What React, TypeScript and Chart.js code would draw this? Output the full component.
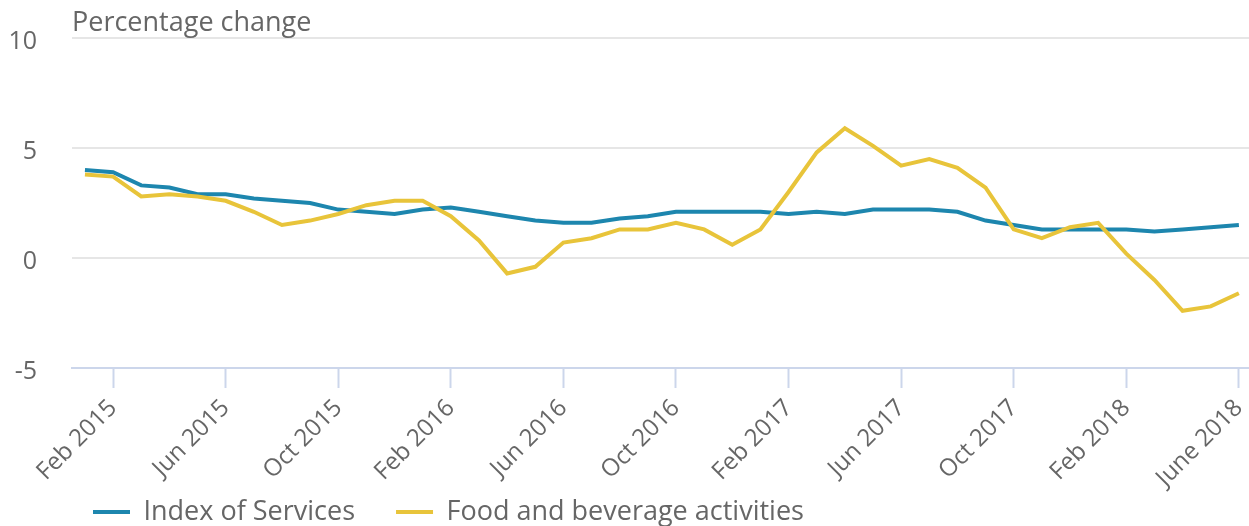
import React, { useEffect, useRef } from "react";
import { Chart, registerables } from "chart.js";

Chart.register(...registerables);

const categories = [
  "Jan 2015", "Feb 2015", "Mar 2015", "Apr 2015", "May 2015", "Jun 2015",
  "Jul 2015", "Aug 2015", "Sep 2015", "Oct 2015", "Nov 2015", "Dec 2015",
  "Jan 2016", "Feb 2016", "Mar 2016", "Apr 2016", "May 2016", "Jun 2016",
  "Jul 2016", "Aug 2016", "Sep 2016", "Oct 2016", "Nov 2016", "Dec 2016",
  "Jan 2017", "Feb 2017", "Mar 2017", "Apr 2017", "May 2017", "Jun 2017",
  "Jul 2017", "Aug 2017", "Sep 2017", "Oct 2017", "Nov 2017", "Dec 2017",
  "Jan 2018", "Feb 2018", "Mar 2018", "Apr 2018", "May 2018", "June 2018",
];

const tickIndices = [1, 5, 9, 13, 17, 21, 25, 29, 33, 37, 41];
const tickLabels = [
  "Feb 2015", "Jun 2015", "Oct 2015", "Feb 2016", "Jun 2016", "Oct 2016",
  "Feb 2017", "Jun 2017", "Oct 2017", "Feb 2018", "June 2018",
];

const yTicks = [-5, 0, 5, 10];

const indexOfServices = [
  4.0, 3.9, 3.3, 3.2, 2.9, 2.9, 2.7, 2.6, 2.5, 2.2, 2.1, 2.0,
  2.2, 2.3, 2.1, 1.9, 1.7, 1.6, 1.6, 1.8, 1.9, 2.1, 2.1, 2.1,
  2.1, 2.0, 2.1, 2.0, 2.2, 2.2, 2.2, 2.1, 1.7, 1.5, 1.3, 1.3,
  1.3, 1.3, 1.2, 1.3, 1.4, 1.5,
];

const foodAndBeverage = [
  3.8, 3.7, 2.8, 2.9, 2.8, 2.6, 2.1, 1.5, 1.7, 2.0, 2.4, 2.6,
  2.6, 1.9, 0.8, -0.7, -0.4, 0.7, 0.9, 1.3, 1.3, 1.6, 1.3, 0.6,
  1.3, 3.0, 4.8, 5.9, 5.1, 4.2, 4.5, 4.1, 3.2, 1.3, 0.9, 1.4,
  1.6, 0.2, -1.0, -2.4, -2.2, -1.6,
];

const BLUE = "#1d86ae";
const YELLOW = "#e8c43a";
const TEXT = "#666666";
const FONT = "'Open Sans', sans-serif";

const layoutTweaks = {
  id: "layoutTweaks",
  afterLayout(chart: any) {
    const lg = chart.legend;
    if (lg) {
      lg.left -= 20;
      lg.right -= 20;
    }
    const xs = chart.scales && chart.scales.x;
    if (xs) {
      xs.bottom = chart.height;
    }
  },
};

export default function App() {
  const ref = useRef<HTMLCanvasElement | null>(null);

  useEffect(() => {
    if (!ref.current) return;
    const toPoints = (arr: number[]) => arr.map((v, i) => ({ x: i, y: v }));
    const chart = new Chart(ref.current, {
      type: "line",
      data: {
        labels: categories,
        datasets: [
          {
            label: "Index of Services",
            data: toPoints(indexOfServices),
            borderColor: BLUE,
            backgroundColor: BLUE,
            borderWidth: 4,
            pointRadius: 0,
            tension: 0,
            order: 1,
          },
          {
            label: "Food and beverage activities",
            data: toPoints(foodAndBeverage),
            borderColor: YELLOW,
            backgroundColor: YELLOW,
            borderWidth: 4,
            pointRadius: 0,
            tension: 0,
            order: 0,
          },
        ],
      },
      plugins: [layoutTweaks],
      options: {
        animation: false,
        responsive: false,
        layout: { padding: { top: 0, left: 0, right: 0, bottom: -9.5 } },
        plugins: {
          tooltip: { enabled: false },
          title: {
            display: true,
            text: "Percentage change",
            align: "start",
            fullSize: false,
            color: TEXT,
            font: { family: FONT, size: 27, weight: "normal", lineHeight: 1 },
            padding: { top: 10, bottom: 1 },
          },
          legend: {
            position: "bottom",
            align: "start",
            fullSize: false,
            labels: {
              usePointStyle: true,
              pointStyle: "line",
              pointStyleWidth: 37,
              color: TEXT,
              font: { family: FONT, size: 27 },
              padding: 41,
              sort: (a: any, b: any) => a.datasetIndex - b.datasetIndex,
            },
          },
        },
        scales: {
          x: {
            type: "linear",
            min: -0.46,
            max: 41.36,
            afterBuildTicks: (s: any) => {
              s.ticks = tickIndices.map((v) => ({ value: v }));
            },
            afterFit: (s: any) => {
              s.height = 89.5;
              s.paddingLeft = 0;
              s.paddingRight = 0;
            },
            ticks: {
              autoSkip: false,
              minRotation: 45,
              maxRotation: 45,
              color: TEXT,
              font: { family: FONT, size: 24 },
              padding: 6,
              callback: (v: any) => {
                const k = tickIndices.indexOf(Number(v));
                return k >= 0 ? tickLabels[k] : "";
              },
            },
            grid: {
              drawOnChartArea: false,
              drawTicks: true,
              tickLength: 20,
              tickColor: "#ccd6eb",
              tickWidth: 2,
            },
            border: { display: true, color: "#ccd6eb", width: 2 },
          },
          y: {
            min: -5,
            max: 10,
            afterBuildTicks: (s: any) => {
              s.ticks = yTicks.map((v) => ({ value: v }));
            },
            afterFit: (s: any) => {
              s.width = 72;
              s.paddingTop = 0;
              s.paddingBottom = 0;
            },
            ticks: {
              color: TEXT,
              font: { family: FONT, size: 25 },
              padding: 35,
              labelOffset: 4,
            },
            grid: {
              color: (c: any) => (c.tick && c.tick.value === -5 ? "rgba(0,0,0,0)" : "#e6e6e6"),
              lineWidth: 2,
              drawTicks: false,
            },
            border: { display: false },
          },
        },
      },
    });
    return () => chart.destroy();
  }, []);

  return (
    <div style={{ position: "absolute", left: 0, top: 0, width: 1249, height: 526 }}>
      <canvas ref={ref} width={1249} height={526} style={{ display: "block" }} />
    </div>
  );
}
